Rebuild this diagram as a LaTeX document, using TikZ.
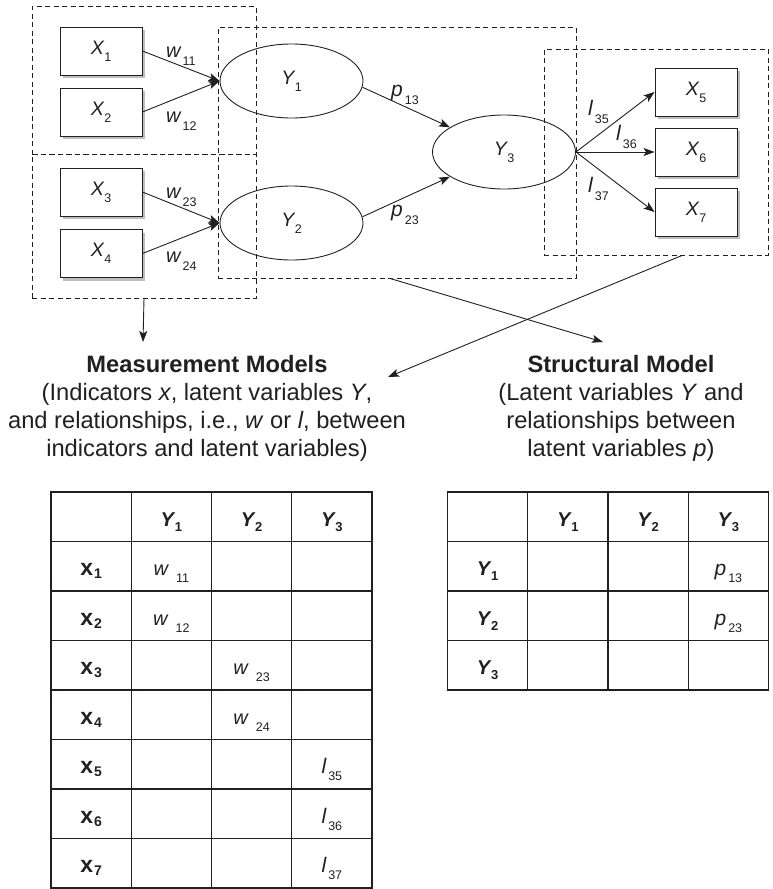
\documentclass[tikz,border=0pt]{standalone}
\usepackage{fontspec}
\setmainfont{Liberation Sans}
\usetikzlibrary{shapes.geometric,arrows.meta,shadows,matrix,calc}
\definecolor{ink}{HTML}{231F20}
\definecolor{shade}{HTML}{BEBEBE}
\newcommand{\boxlab}[2]{{\fontsize{19.5}{19.5}\selectfont\itshape #1}\kern0.5pt\raisebox{-7pt}{\fontsize{12.5}{12.5}\selectfont #2}}
\newcommand{\edgelab}[3]{{\fontsize{#3}{#3}\selectfont\itshape #1}\kern2pt\raisebox{-8pt}{\fontsize{12.5}{12.5}\selectfont #2}}
\newcommand{\tabY}[1]{{\fontsize{20}{20}\selectfont\bfseries\itshape Y}\kern1pt\raisebox{-5pt}{\fontsize{13}{13}\selectfont\bfseries #1}}
\newcommand{\tabX}[1]{{\fontsize{23}{23}\selectfont\bfseries x}\kern1pt\raisebox{-3pt}{\fontsize{14}{14}\selectfont\bfseries #1}}
\newcommand{\tabW}[1]{{\fontsize{20}{20}\selectfont\itshape w}\kern8pt\raisebox{-7pt}{\fontsize{12.5}{12.5}\selectfont #1}}
\newcommand{\tabP}[1]{{\fontsize{21}{21}\selectfont\itshape p}\kern2pt\raisebox{-7pt}{\fontsize{12.5}{12.5}\selectfont #1}}
\newcommand{\tabL}[1]{{\fontsize{21}{21}\selectfont\itshape l}\kern2pt\raisebox{-7pt}{\fontsize{12.5}{12.5}\selectfont #1}}
\tikzset{
  ind/.style={draw=ink, line width=0.9pt, fill=white, rectangle, minimum width=82pt, minimum height=48pt, inner sep=0pt, text=ink,
    drop shadow={shadow xshift=3pt, shadow yshift=-3pt, fill=shade, opacity=1}},
  lat/.style={draw=ink, line width=0.9pt, ellipse, minimum width=143pt, minimum height=74pt, inner sep=0pt, text=ink},
  dbox/.style={draw=ink, line width=0.9pt, dash pattern=on 5pt off 3.5pt, rectangle, inner sep=0pt},
  arr/.style={draw=ink, line width=0.9pt, -{Stealth[length=11pt, width=8pt, inset=2.5pt]}},
  elab/.style={inner sep=0pt, text=ink},
  title/.style={align=center, font=\fontsize{23.7}{28}\selectfont, inner sep=0pt, text=ink},
  tcell/.style={minimum width=80.25pt, minimum height=49.5pt, inner sep=0pt, outer sep=0pt, text height=19pt, text depth=0pt, text=ink, anchor=center},
  tline/.style={draw=ink, line width=1.3pt}
}
\begin{document}
\begin{tikzpicture}[x=1pt, y=-1pt]
\useasboundingbox (0,0) rectangle (773,889);
% indicators
\node[ind] (x1) at (101,51) {\boxlab{X}{1}};
\node[ind] (x2) at (101,112) {\boxlab{X}{2}};
\node[ind] (x3) at (101,192) {\boxlab{X}{3}};
\node[ind] (x4) at (101,253.5) {\boxlab{X}{4}};
\node[ind] (x5) at (696,92) {\boxlab{X}{5}};
\node[ind] (x6) at (696,152) {\boxlab{X}{6}};
\node[ind] (x7) at (696,212) {\boxlab{X}{7}};
% latent variables
\node[lat] (Y1) at (291.5,81) {\boxlab{Y}{1}};
\node[lat] (Y2) at (291.5,223) {\boxlab{Y}{2}};
\node[lat] (Y3) at (504,152) {\boxlab{Y}{3}};
% connectors
\draw[arr] (x1.east) -- (Y1.west);
\draw[arr] (x2.east) -- (Y1.west);
\draw[arr] (x3.east) -- (Y2.west);
\draw[arr] (x4.east) -- (Y2.west);
\draw[arr] (Y1.-5) -- (Y3);
\draw[arr] (Y2.5) -- (Y3);
\draw[arr] (Y3.east) -- (x5.west);
\draw[arr] (Y3.east) -- (x6.west);
\draw[arr] (Y3.east) -- (x7.west);
% edge labels
\node[elab, anchor=base west] (lw11) at (166,57) {\edgelab{w}{11}{20}};
\node[elab, anchor=base west] (lw12) at (166,122) {\edgelab{w}{12}{20}};
\node[elab, anchor=base west] (lw23) at (166,198) {\edgelab{w}{23}{20}};
\node[elab, anchor=base west] (lw24) at (166,262) {\edgelab{w}{24}{20}};
\node[elab, anchor=base west] (lp13) at (391,96) {\edgelab{p}{13}{21}};
\node[elab, anchor=base west] (lp23) at (391,216) {\edgelab{p}{23}{21}};
\node[elab, anchor=base west] (ll35) at (588,115) {\edgelab{l}{35}{21}};
\node[elab, anchor=base west] (ll36) at (616,140) {\edgelab{l}{36}{21}};
\node[elab, anchor=base west] (ll37) at (588,192) {\edgelab{l}{37}{21}};
% dashed model boxes
\node[dbox, minimum width=224pt, minimum height=148pt] (A) at (144,80) {};
\node[dbox, minimum width=224pt, minimum height=144pt] (B) at (144,226) {};
\node[dbox, minimum width=358pt, minimum height=251pt] (M) at (397,152.5) {};
\node[dbox, minimum width=224pt, minimum height=206pt] (R) at (656,152) {};
% texts
\node[title, anchor=north] (mm) at (207,355) {\textbf{Measurement Models}\\(Indicators \textit{x}, latent variables \textit{Y},\\and relationships, i.e., \textit{w} or \textit{l}, between\\indicators and latent variables)};
\node[title, anchor=north] (sm) at (621,355) {\textbf{Structural Model}\\(Latent variables \textit{Y} and\\relationships between\\latent variables \textit{p})};
% pointers
\coordinate (mmTip) at (143,342);
\coordinate (smTip) at (603,342);
\coordinate (mmTip2) at (388,377);
\draw[arr] (B.south) -- (mmTip);
\draw[arr] ($(M.south)+(-7,0)$) -- (smTip);
\draw[arr] ($(R.south)+(26,0)$) -- (mmTip2);
% tables
\matrix (mt) [matrix of nodes, nodes in empty cells, column sep=0pt, row sep=0pt, inner sep=0pt, outer sep=0pt, nodes={tcell}] at (211.5,690) {
 & \tabY{1} & \tabY{2} & \tabY{3} \\
\tabX{1} & \tabW{11} & & \\
\tabX{2} & \tabW{12} & & \\
\tabX{3} & & \tabW{23} & \\
\tabX{4} & & \tabW{24} & \\
\tabX{5} & & & \tabL{35} \\
\tabX{6} & & & \tabL{36} \\
\tabX{7} & & & \tabL{37} \\
};
\draw[tline] (mt-1-1.north west) rectangle (mt-8-4.south east);
\foreach \c in {2,3,4} \draw[tline] (mt-1-\c.north west) -- (mt-8-\c.south west);
\foreach \r in {2,...,8} \draw[tline] (mt-\r-1.north west) -- (mt-\r-4.north east);
\matrix (st) [matrix of nodes, nodes in empty cells, column sep=0pt, row sep=0pt, inner sep=0pt, outer sep=0pt, nodes={tcell}] at (608,591) {
 & \tabY{1} & \tabY{2} & \tabY{3} \\
\tabY{1} & & & \tabP{13} \\
\tabY{2} & & & \tabP{23} \\
\tabY{3} & & & \\
};
\draw[tline] (st-1-1.north west) rectangle (st-4-4.south east);
\foreach \c in {2,3,4} \draw[tline] (st-1-\c.north west) -- (st-4-\c.south west);
\foreach \r in {2,3,4} \draw[tline] (st-\r-1.north west) -- (st-\r-4.north east);
\end{tikzpicture}
\end{document}
